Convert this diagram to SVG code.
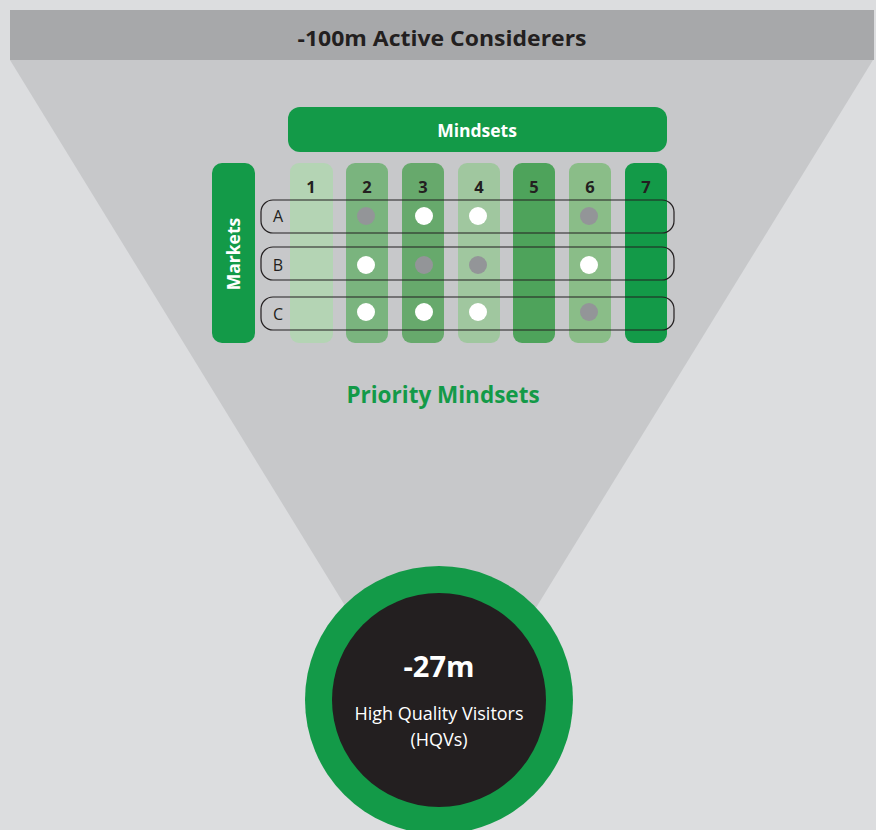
<svg xmlns="http://www.w3.org/2000/svg" width="876" height="830" viewBox="0 0 876 830">
<style>
.num{font-family:"Open Sans","Liberation Sans",sans-serif;font-weight:700;font-size:16.5px;fill:#231f20;text-anchor:middle}
.row{fill:none;stroke:#231f20;stroke-width:1.2}
.lbl{font-family:"Open Sans","Liberation Sans",sans-serif;font-size:16px;fill:#231f20;text-anchor:middle}
.w{fill:#ffffff}
.g{fill:#939598}
</style>
<rect width="876" height="830" fill="#dcdddf"/>
<g id="funnel">
<polygon points="10,60 873,60 441,762" fill="#c7c8ca"/>
</g>
<g id="top-bar">
<rect x="10" y="10" width="864" height="50" fill="#a7a8aa"/>
<text x="442" y="46" font-family="Open Sans, Liberation Sans, sans-serif" font-weight="700" font-size="21" fill="#231f20" text-anchor="middle" textLength="289" lengthAdjust="spacingAndGlyphs">-100m Active Considerers</text>
</g>
<g id="mindsets-header">
<rect x="288" y="107" width="379" height="45" rx="12" fill="#139a48"/>
<text x="477" y="137" font-family="Open Sans, Liberation Sans, sans-serif" font-weight="700" font-size="17.5" fill="#ffffff" text-anchor="middle">Mindsets</text>
</g>
<g id="markets-header">
<rect x="212" y="163" width="43" height="180" rx="10" fill="#139a48"/>
<text transform="translate(240,254) rotate(-90)" font-family="Open Sans, Liberation Sans, sans-serif" font-weight="700" font-size="17.5" fill="#ffffff" text-anchor="middle">Markets</text>
</g>
<g id="columns">
<rect x="290" y="163" width="43" height="180" rx="9" fill="#b4d4b4"/>
<rect x="346" y="163" width="42" height="180" rx="9" fill="#7ab47e"/>
<rect x="402" y="163" width="42" height="180" rx="9" fill="#67a96c"/>
<rect x="458" y="163" width="42" height="180" rx="9" fill="#a0c79f"/>
<rect x="513" y="163" width="42" height="180" rx="9" fill="#4ea35b"/>
<rect x="569" y="163" width="42" height="180" rx="9" fill="#8abd88"/>
<rect x="625" y="163" width="42" height="180" rx="9" fill="#139a48"/>
<text class="num" x="311" y="193">1</text>
<text class="num" x="367" y="193">2</text>
<text class="num" x="423" y="193">3</text>
<text class="num" x="479" y="193">4</text>
<text class="num" x="534" y="193">5</text>
<text class="num" x="590" y="193">6</text>
<text class="num" x="646" y="193">7</text>
</g>
<g id="row-A">
<rect class="row" x="261" y="200" width="413" height="33" rx="12"/>
<text class="lbl" x="278" y="222">A</text>
<circle class="g" cx="366" cy="216" r="9"/>
<circle class="w" cx="424" cy="216" r="9"/>
<circle class="w" cx="478" cy="216" r="9"/>
<circle class="g" cx="589" cy="216" r="9"/>
</g>
<g id="row-B">
<rect class="row" x="261" y="247" width="413" height="33" rx="12"/>
<text class="lbl" x="278" y="271">B</text>
<circle class="w" cx="366" cy="265" r="9"/>
<circle class="g" cx="424" cy="265" r="9"/>
<circle class="g" cx="478" cy="265" r="9"/>
<circle class="w" cx="589" cy="265" r="9"/>
</g>
<g id="row-C">
<rect class="row" x="261" y="297" width="413" height="33" rx="12"/>
<text class="lbl" x="278" y="320">C</text>
<circle class="w" cx="366" cy="312" r="9"/>
<circle class="w" cx="424" cy="312" r="9"/>
<circle class="w" cx="478" cy="312" r="9"/>
<circle class="g" cx="589" cy="312" r="9"/>
</g>
<g id="priority-label">
<text x="443" y="403" font-family="Open Sans, Liberation Sans, sans-serif" font-weight="700" font-size="22.5" fill="#139a48" text-anchor="middle">Priority Mindsets</text>
</g>
<g id="hqv-circle">
<circle cx="439" cy="700" r="134" fill="#139a48"/>
<circle cx="439" cy="700" r="107" fill="#231f20"/>
<text x="439" y="677" font-family="Open Sans, Liberation Sans, sans-serif" font-weight="700" font-size="29" fill="#ffffff" text-anchor="middle">-27m</text>
<text x="439" y="720" font-family="Open Sans, Liberation Sans, sans-serif" font-size="18" fill="#ffffff" text-anchor="middle">High Quality Visitors</text>
<text x="439" y="746" font-family="Open Sans, Liberation Sans, sans-serif" font-size="18" fill="#ffffff" text-anchor="middle">(HQVs)</text>
</g>
</svg>
